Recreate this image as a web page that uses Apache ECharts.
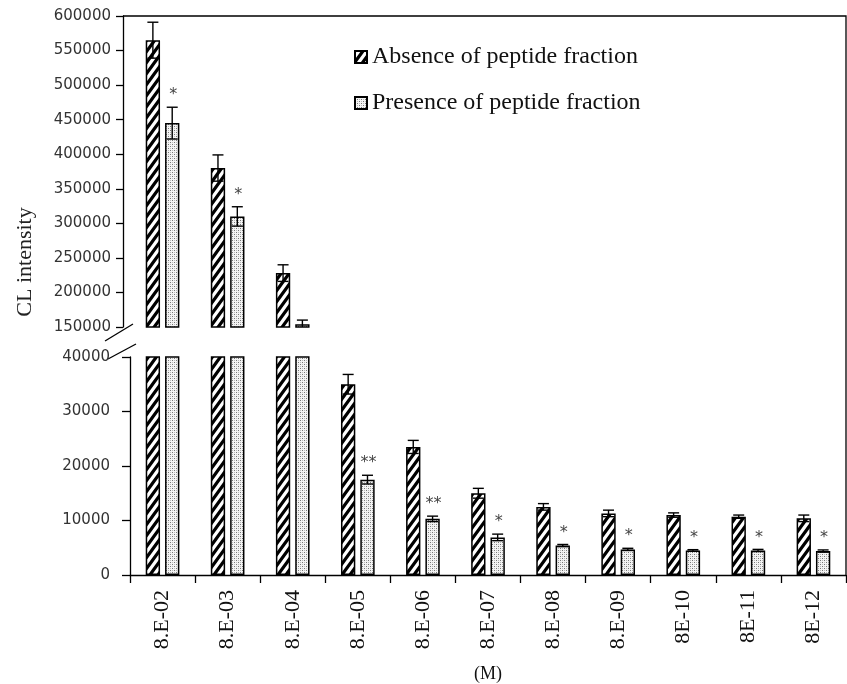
<!DOCTYPE html>
<html>
<head>
<meta charset="utf-8">
<script src="https://cdn.jsdelivr.net/npm/echarts@6/dist/echarts.min.js"></script>
<style>
html,body{margin:0;padding:0;background:#fff;}
#chart{width:847px;height:684px;}
</style>
</head>
<body>
<div id="chart"></div>
<script>
// ---- data ----
var categories = ['8.E-02','8.E-03','8.E-04','8.E-05','8.E-06','8.E-07','8.E-08','8.E-09','8E-10','8E-11','8E-12'];
var absenceValues  = [565000, 380000, 228000, 35000, 23500, 15000, 12500, 11300, 11000, 10700, 10400];
var absenceErrors  = [26000, 19000, 12000, 1800, 1200, 900, 600, 600, 400, 300, 600];
var presenceValues = [445000, 310000, 154000, 17500, 10300, 6900, 5400, 4700, 4500, 4500, 4400];
var presenceErrors = [23000, 14000, 6000, 800, 500, 600, 200, 200, 150, 200, 200];
var presenceStars  = ['*', '*', '', '**', '**', '*', '*', '*', '*', '*', '*'];
var upperTicks = {min: 150000, max: 600000, interval: 50000};
var lowerTicks = {min: 0, max: 40000, interval: 10000};
var seriesNames = ['Absence of peptide fraction', 'Presence of peptide fraction'];

// ---- layout ----
var L = 130, R = 846, UT = 16, UB = 327, LT = 357, LB = 575;
var BARW = 0.22, GAP = 0.35;

function hatchPattern() {
  var w = 8, h = 11;
  var c = document.createElement('canvas'); c.width = w; c.height = h;
  var g = c.getContext('2d');
  g.fillStyle = '#fff'; g.fillRect(0, 0, w, h);
  g.strokeStyle = '#000'; g.lineWidth = 3.2; g.lineCap = 'square';
  g.beginPath();
  for (var k = -1; k <= 1; k++) { g.moveTo(k * w, h); g.lineTo(k * w + w, 0); }
  g.stroke();
  return c;
}
function dotPattern() {
  var c = document.createElement('canvas'); c.width = 4; c.height = 4;
  var g = c.getContext('2d');
  g.fillStyle = '#f4f4f4'; g.fillRect(0, 0, 4, 4);
  g.fillStyle = '#777'; g.fillRect(0, 0, 1, 1); g.fillRect(2, 2, 1, 1);
  g.fillStyle = '#bbb'; g.fillRect(2, 0, 1, 1); g.fillRect(0, 2, 1, 1);
  return c;
}
var hatch = {image: hatchPattern(), repeat: 'repeat'};
var dots = {image: dotPattern(), repeat: 'repeat'};

var chart = echarts.init(document.getElementById('chart'), null, {renderer: 'canvas'});

function errData(lo, hi) {
  var out = [];
  for (var i = 0; i < categories.length; i++) {
    if (absenceValues[i] >= lo && absenceValues[i] <= hi) out.push([i, absenceValues[i], absenceErrors[i], 0, '']);
    if (presenceValues[i] >= lo && presenceValues[i] <= hi) out.push([i, presenceValues[i], presenceErrors[i], 1, presenceStars[i]]);
  }
  return out;
}

var errSrc = {};
function renderErr(params, api) {
  var idx = api.value(0), v = api.value(1), e = api.value(2), si = api.value(3);
  var star = errSrc[params.seriesIndex][params.dataIndex][4];
  var band = api.size([1, 0])[0];
  var bw = band * BARW, gap = bw * GAP;
  var off = -(2 * bw + gap) / 2 + bw / 2 + si * (bw + gap);
  var t = api.coord([idx, v + e]);
  var b = api.coord([idx, v - e]);
  var x = t[0] + off;
  var cap = 5.5;
  var st = {stroke: '#000', lineWidth: 1.4};
  var children = [
    {type: 'line', shape: {x1: x, y1: t[1], x2: x, y2: b[1]}, style: st},
    {type: 'line', shape: {x1: x - cap, y1: t[1], x2: x + cap, y2: t[1]}, style: st},
    {type: 'line', shape: {x1: x - cap, y1: b[1], x2: x + cap, y2: b[1]}, style: st}
  ];
  if (star) {
    children.push({type: 'text', style: {text: star, x: x + 1, y: t[1] - 4, textAlign: 'center', textVerticalAlign: 'bottom',
      font: '16px "DejaVu Sans"', fill: '#444'}});
  }
  return {type: 'group', children: children};
}

var upperErr = errData(upperTicks.min, upperTicks.max);
var lowerErr = errData(lowerTicks.min, lowerTicks.max);

var barItem = function (pat) { return {color: pat, borderColor: '#000', borderWidth: 1.5}; };

var series = [
  {name: seriesNames[0], type: 'bar', xAxisIndex: 0, yAxisIndex: 0, data: absenceValues, barWidth: (BARW * 100) + '%', barGap: (GAP * 100) + '%', itemStyle: barItem(hatch), clip: true, silent: true, animation: false},
  {name: seriesNames[1], type: 'bar', xAxisIndex: 0, yAxisIndex: 0, data: presenceValues, barWidth: (BARW * 100) + '%', barGap: (GAP * 100) + '%', itemStyle: barItem(dots), clip: true, silent: true, animation: false},
  {name: 'errU', type: 'custom', xAxisIndex: 0, yAxisIndex: 0, data: upperErr, renderItem: renderErr, clip: true, silent: true, animation: false, z: 5},
  {name: seriesNames[0], type: 'bar', xAxisIndex: 1, yAxisIndex: 1, data: absenceValues, barWidth: (BARW * 100) + '%', barGap: (GAP * 100) + '%', itemStyle: barItem(hatch), clip: true, silent: true, animation: false},
  {name: seriesNames[1], type: 'bar', xAxisIndex: 1, yAxisIndex: 1, data: presenceValues, barWidth: (BARW * 100) + '%', barGap: (GAP * 100) + '%', itemStyle: barItem(dots), clip: true, silent: true, animation: false},
  {name: 'errL', type: 'custom', xAxisIndex: 1, yAxisIndex: 1, data: lowerErr, renderItem: renderErr, clip: true, silent: true, animation: false, z: 5}
];
errSrc[2] = upperErr; errSrc[5] = lowerErr;

var W = 847, H = 684;
var tickLabel = {fontFamily: 'DejaVu Sans', fontSize: 15, color: '#333', formatter: function (v) { return String(v); }};

var option = {
  backgroundColor: '#fff',
  animation: false,
  grid: [
    {left: L, right: W - R, top: UT, bottom: H - UB},
    {left: L, right: W - R, top: LT, bottom: H - LB}
  ],
  legend: {
    data: seriesNames,
    orient: 'vertical', left: 349, top: 40,
    icon: 'rect', itemWidth: 12, itemHeight: 12, itemGap: 22,
    textStyle: {fontFamily: 'Liberation Serif', fontSize: 24, color: '#111', lineHeight: 24},
    selectedMode: false
  },
  xAxis: [
    {type: 'category', gridIndex: 0, data: categories, show: false},
    {type: 'category', gridIndex: 1, data: categories,
      axisLine: {show: true, lineStyle: {color: '#000', width: 1.3}},
      axisTick: {show: true, length: 8, lineStyle: {color: '#000', width: 1.3}},
      axisLabel: {rotate: 90, margin: 15, fontFamily: 'Liberation Serif', fontSize: 22, color: '#111'},
      name: '(M)', nameLocation: 'middle', nameGap: 90,
      nameTextStyle: {fontFamily: 'Liberation Serif', fontSize: 18, color: '#111'}}
  ],
  yAxis: [
    {type: 'value', gridIndex: 0, min: upperTicks.min, max: upperTicks.max, interval: upperTicks.interval, offset: 7,
      axisLine: {show: true, lineStyle: {color: '#000', width: 1.3}},
      axisTick: {show: true, length: 7, lineStyle: {color: '#000', width: 1.3}},
      axisLabel: Object.assign({margin: 12}, tickLabel),
      splitLine: {show: false}},
    {type: 'value', gridIndex: 1, min: lowerTicks.min, max: lowerTicks.max, interval: lowerTicks.interval,
      axisLine: {show: true, lineStyle: {color: '#000', width: 1.3}},
      axisTick: {show: true, length: 8, lineStyle: {color: '#000', width: 1.3}},
      axisLabel: Object.assign({margin: 20}, tickLabel),
      splitLine: {show: false}}
  ],
  graphic: [
    {type: 'polyline', shape: {points: [[L - 7, UT], [R, UT], [R, LB]]}, style: {stroke: '#000', lineWidth: 1.3, fill: null}, silent: true},
    {type: 'line', shape: {x1: 105, y1: 341, x2: 133, y2: 324}, style: {stroke: '#000', lineWidth: 1.3}, silent: true},
    {type: 'line', shape: {x1: 108, y1: 359, x2: 136, y2: 344}, style: {stroke: '#000', lineWidth: 1.3}, silent: true},
    {type: 'text', x: 25, y: 262, rotation: Math.PI / 2,
      style: {text: 'CL intensity', textAlign: 'center', textVerticalAlign: 'middle', font: '22px "Liberation Serif"', fill: '#222'}, silent: true}
  ],
  series: series
};
chart.setOption(option);
</script>
</body>
</html>
